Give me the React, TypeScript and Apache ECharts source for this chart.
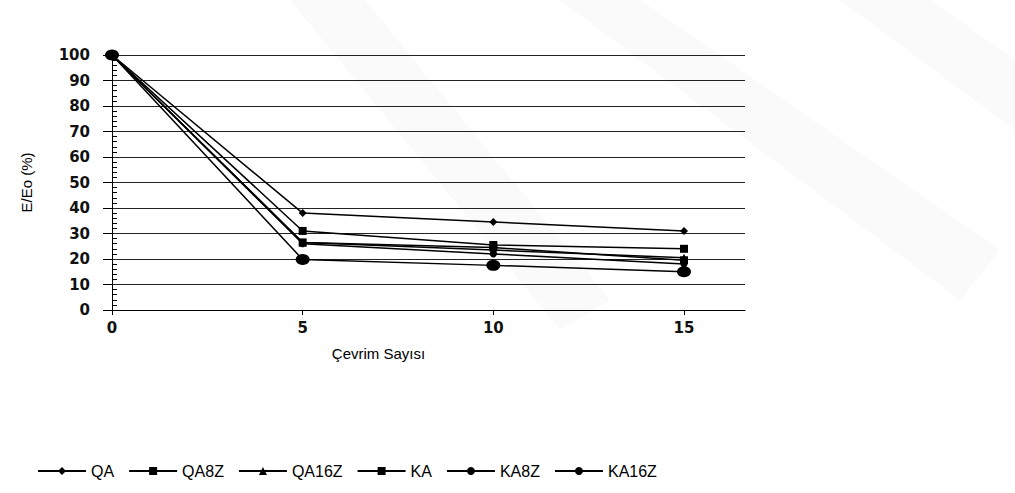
import React, { useEffect, useRef } from "react";
import * as echarts from "echarts";

const cycles = [0, 5, 10, 15];
const QA = [100, 38, 34.5, 31];
const QA8Z = [100, 31, 25.5, 24];
const QA16Z = [100, 26.5, 23.5, 20.5];
const KA = [100, 26.5, 24.5, 19.5];
const KA8Z = [100, 26, 22, 18];
const KA16Z = [100, 19.8, 17.5, 15];
const xTickValues = [0, 5, 10, 15];
const xAxisTitle = "Çevrim Sayısı";
const yAxisTitle = "E/Eo (%)";

const seriesDefs = [
  { name: "QA", data: QA, symbol: "diamond", size: [8, 8] },
  { name: "QA8Z", data: QA8Z, symbol: "rect", size: [8, 8] },
  { name: "QA16Z", data: QA16Z, symbol: "triangle", size: [8, 8] },
  { name: "KA", data: KA, symbol: "rect", size: [8, 8] },
  { name: "KA8Z", data: KA8Z, symbol: "circle", size: [7, 7] },
  { name: "KA16Z", data: KA16Z, symbol: "circle", size: [14, 11] },
];

export default function App() {
  const ref = useRef<HTMLDivElement>(null);
  useEffect(() => {
    if (!ref.current) return;
    const chart = echarts.init(ref.current, undefined, { renderer: "svg" });
    const tickFont = {
      fontFamily: "DejaVu Sans",
      fontWeight: "bold" as const,
      fontSize: 15,
      color: "#111",
    };
    chart.setOption({
      animation: false,
      backgroundColor: "#fff",
      graphic: [
        {
          type: "polygon",
          z: -10,
          shape: { points: [[290, 0], [365, 0], [610, 300], [560, 330]] },
          style: { fill: "#fafafa" },
          silent: true,
        },
        {
          type: "polygon",
          z: -10,
          shape: { points: [[560, 0], [640, 0], [1000, 250], [960, 300]] },
          style: { fill: "#fafafa" },
          silent: true,
        },
        {
          type: "polygon",
          z: -10,
          shape: { points: [[840, 0], [930, 0], [1015, 60], [1015, 130]] },
          style: { fill: "#fafafa" },
          silent: true,
        },
      ],
      grid: { left: 112, right: 270, top: 55, bottom: 183, containLabel: false },
      legend: {
        left: 32,
        top: 458,
        itemWidth: 48,
        itemHeight: 10,
        itemGap: 14,
        textStyle: { fontFamily: "Liberation Sans", fontSize: 16, color: "#000" },
        data: seriesDefs.map((s) => s.name),
      },
      xAxis: {
        type: "value",
        min: 0,
        max: 16.6,
        interval: 5,
        name: xAxisTitle,
        nameLocation: "middle",
        nameGap: 36,
        nameTextStyle: {
          fontFamily: "Liberation Sans",
          fontSize: 15,
          color: "#000",
          padding: [0, 100, 0, 0],
        },
        axisLine: { show: true, onZero: false, lineStyle: { color: "#000", width: 1 } },
        axisTick: { show: true, length: 5, customValues: xTickValues, lineStyle: { color: "#000" } },
        axisLabel: { ...tickFont, margin: 10, customValues: xTickValues },
        splitLine: { show: false },
      },
      yAxis: [
        {
          type: "value",
          min: 0,
          max: 100,
          interval: 10,
          name: yAxisTitle,
          nameLocation: "middle",
          nameGap: 78,
          nameRotate: 90,
          nameTextStyle: { fontFamily: "Liberation Sans", fontSize: 15, color: "#000" },
          axisLine: { show: true, lineStyle: { color: "#000", width: 1 } },
          axisTick: { show: true, length: 9, lineStyle: { color: "#000" } },
          axisLabel: { ...tickFont, margin: 22 },
          splitLine: { show: true, lineStyle: { color: "#222", width: 1 } },
        },
        {
          type: "value",
          position: "left",
          offset: 0,
          min: 0,
          max: 100,
          interval: 10,
          axisLine: { show: false },
          axisTick: { show: false, inside: true },
          minorTick: { show: true, splitNumber: 5, length: 5, lineStyle: { color: "#000" } },
          axisLabel: { show: false },
          splitLine: { show: false },
        },
      ],
      series: seriesDefs.map((s) => ({
        name: s.name,
        type: "line",
        yAxisIndex: 0,
        data: cycles.map((c, i) => [c, s.data[i]]),
        symbol: s.symbol,
        symbolSize: s.size,
        showAllSymbol: true,
        lineStyle: { color: "#000", width: 1.5 },
        itemStyle: { color: "#000" },
        color: "#000",
      })),
    });
    return () => chart.dispose();
  }, []);
  return (
    <div
      ref={ref}
      style={{ position: "fixed", left: 0, top: 0, width: 1015, height: 493 }}
    />
  );
}
